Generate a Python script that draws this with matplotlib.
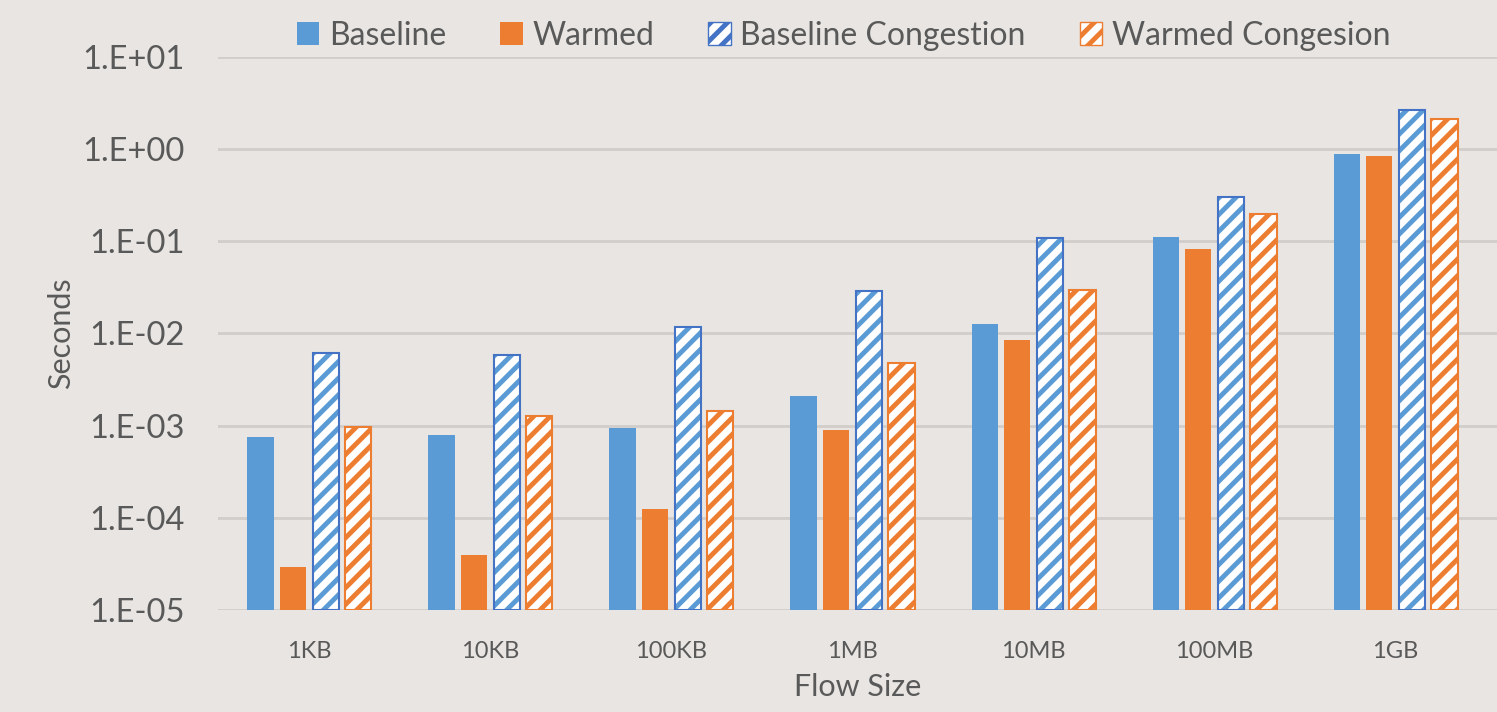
import numpy as np
import matplotlib.pyplot as plt
from matplotlib.patches import Patch

plt.rcParams['font.family'] = ['Lato', 'DejaVu Sans']
plt.rcParams['hatch.linewidth'] = 3.5

sizes = ['1KB', '10KB', '100KB', '1MB', '10MB', '100MB', '1GB']
baseline = [7.5e-4, 7.9e-4, 9.4e-4, 2.1e-3, 1.27e-2, 0.110, 0.88]
warmed = [2.9e-5, 3.9e-5, 1.24e-4, 9.0e-4, 8.6e-3, 0.083, 0.84]
baseline_cong = [6.15e-3, 5.9e-3, 1.19e-2, 2.9e-2, 0.109, 0.30, 2.66]
warmed_cong = [9.6e-4, 1.28e-3, 1.44e-3, 4.8e-3, 2.97e-2, 0.198, 2.11]

BLUE = '#5B9BD5'
BLUE_EDGE = '#4472C4'
ORANGE = '#ED7D31'
BG = '#E8E5E2'
TXT = '#595959'
GRID = '#D0CDCA'
BASE = 1e-5

fig = plt.figure(figsize=(14.97, 7.12), dpi=100, facecolor=BG)
ax = fig.add_axes([0.1456, 0.1433, 0.8544, 0.7767], facecolor=BG)

x = np.arange(len(sizes))
w = 0.145
step = 0.18
offs = [-1.5 * step, -0.5 * step, 0.5 * step, 1.5 * step]


def h(vals):
    return np.array(vals) - BASE


ax.bar(x + offs[0], h(baseline), w, bottom=BASE, color=BLUE, zorder=3)
ax.bar(x + offs[1], h(warmed), w, bottom=BASE, color=ORANGE, zorder=3)
ax.bar(x + offs[2], h(baseline_cong), w, bottom=BASE, color='white',
       edgecolor=BLUE, hatch='//', linewidth=0, zorder=3)
ax.bar(x + offs[2], h(baseline_cong), w, bottom=BASE, fill=False,
       edgecolor=BLUE_EDGE, linewidth=1.5, zorder=4)
ax.bar(x + offs[3], h(warmed_cong), w, bottom=BASE, color='white',
       edgecolor=ORANGE, hatch='//', linewidth=1.5, zorder=3)

ax.set_yscale('log')
ax.set_ylim(1e-5, 1e1)
ax.set_xlim(-0.505, 6.56)
yt = [1e-5, 1e-4, 1e-3, 1e-2, 1e-1, 1e0, 1e1]
ax.set_yticks(yt)
ax.set_yticklabels(['1.E-05', '1.E-04', '1.E-03', '1.E-02', '1.E-01', '1.E+00', '1.E+01'])
ax.minorticks_off()
ax.set_xticks(x)
ax.set_xticklabels(sizes)
ax.tick_params(axis='y', length=0, pad=24, labelsize=23.5, labelcolor=TXT)
ax.tick_params(axis='x', length=0, pad=22, labelsize=17, labelcolor=TXT)
ax.grid(axis='y', color=GRID, linewidth=2, zorder=0)
for s in ax.spines.values():
    s.set_visible(False)

ax.set_ylabel('Seconds', fontsize=22, color=TXT, labelpad=5)
ax.set_xlabel('Flow Size', fontsize=22, color=TXT, labelpad=8)

handles = [
    Patch(facecolor=BLUE, label='Baseline'),
    Patch(facecolor=ORANGE, label='Warmed'),
    Patch(facecolor='white', edgecolor=BLUE_EDGE, hatch='//', label='Baseline Congestion'),
    Patch(facecolor='white', edgecolor=ORANGE, hatch='//', label='Warmed Congesion'),
]
fig.legend(handles=handles, loc='center', bbox_to_anchor=(0.5635, 0.95), ncol=4,
           frameon=False, fontsize=23, labelcolor=TXT, handlelength=0.7,
           handleheight=0.7, handletextpad=0.3, columnspacing=1.7)

fig.savefig('out.png', dpi=100, facecolor=BG)
